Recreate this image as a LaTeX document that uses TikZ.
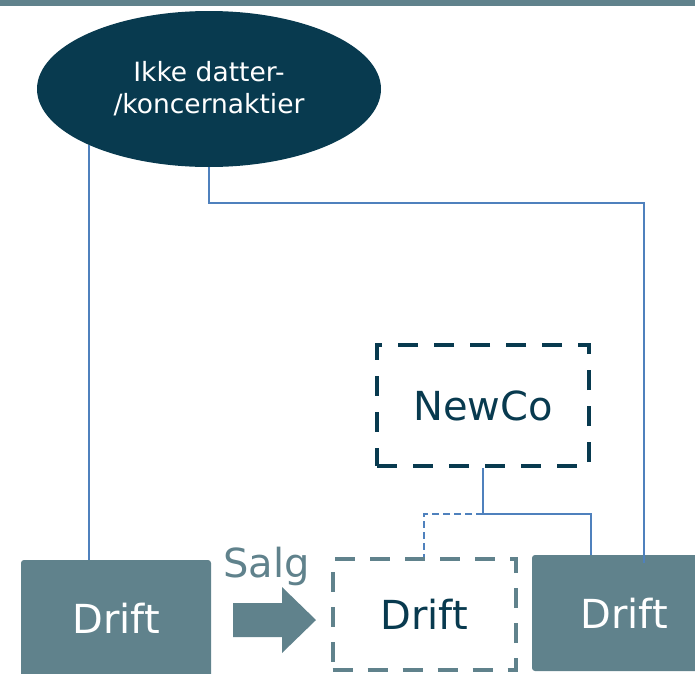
\documentclass[tikz,border=0pt]{standalone}
\usepackage{fontspec}
\setmainfont{DejaVu Sans}
\usetikzlibrary{shapes.geometric,calc}
\definecolor{navy}{RGB}{8,58,79}
\definecolor{slate}{RGB}{96,130,140}
\definecolor{linkblue}{RGB}{79,129,189}
\begin{document}
\begin{tikzpicture}[x=1pt,y=-1pt,
  solidbox/.style={fill=slate,rounded corners=3pt,inner sep=0pt,text=white,
    font=\fontsize{40}{44}\selectfont},
  dashbox/.style={draw,line width=4pt,dash pattern=on 20pt off 15pt,inner sep=0pt,
    font=\fontsize{40}{44}\selectfont},
  link/.style={draw=linkblue,line width=1.8pt},
  dottedlink/.style={link,line width=1.6pt,dash pattern=on 7pt off 4pt}]
\useasboundingbox (0,0) rectangle (695,673);
% top band
\fill[slate] (0,0) rectangle (695,6);
% owner
\node[ellipse,fill=navy,text=white,minimum width=344pt,minimum height=156pt,inner sep=0pt,
  align=center,font=\fontsize{26.5}{32}\selectfont] (owner) at (209,89) {Ikke datter-\\/koncernaktier};
% companies
\node[solidbox,minimum width=190pt,minimum height=117pt] (ldrift) at (116,618.5) {Drift};
\node[solidbox,minimum width=184pt,minimum height=116pt] (rdrift) at (624,613) {Drift};
\node[dashbox,draw=slate,text=navy,minimum width=183pt,minimum height=111pt] (mdrift) at (424,614.5) {Drift};
\node[dashbox,draw=navy,text=navy,line width=4.5pt,dash pattern=on 20pt off 16pt,
  minimum width=212pt,minimum height=121pt] (newco) at (483,405.5) {NewCo};
% sale arrow
\fill[slate] (233,603) -- (282,603) -- (282,587) -- (316,620) -- (282,653) -- (282,637) -- (233,637) -- cycle;
\node[anchor=base,text=slate,inner sep=0pt,font=\fontsize{40}{44}\selectfont] (salg) at (266.5,577) {Salg};
% ownership lines
\draw[link] (owner.205) -- (owner.205 |- ldrift.north);
\coordinate (ojog) at ($(owner.south)+(0,36)$);
\coordinate (rin) at ($(rdrift.north west)+(112,8)$);
\draw[link] (owner.south) -- (ojog) -| (rin);
\coordinate (nj) at ($(newco.south)+(0,46)$);
\coordinate (rin2) at ($(rdrift.north west)+(59,0)$);
\draw[link] (newco.south) -- (nj) -| (rin2);
\draw[dottedlink] (nj) -| (mdrift.north);
\end{tikzpicture}
\end{document}
